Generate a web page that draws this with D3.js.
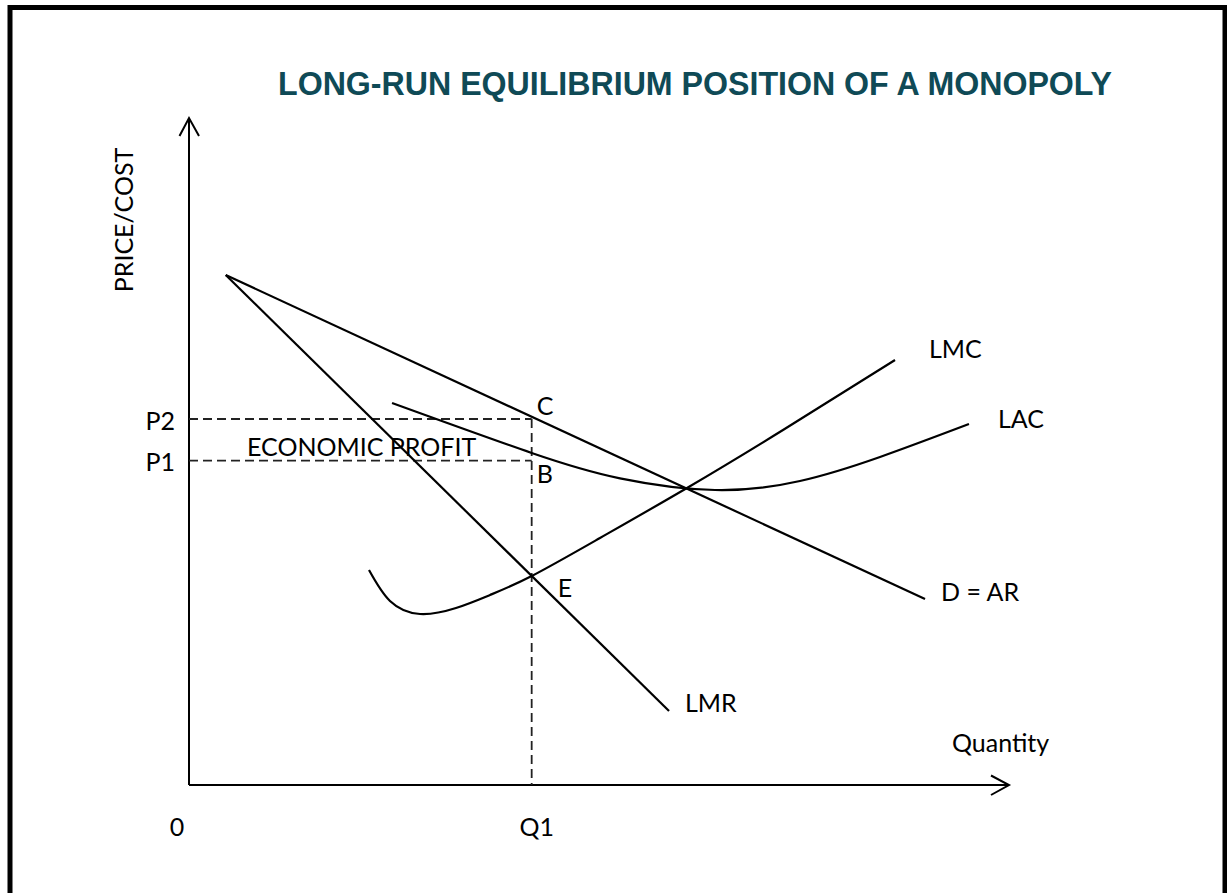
<!DOCTYPE html>
<html>
<head>
<meta charset="utf-8">
<script src="https://cdn.jsdelivr.net/npm/d3@7"></script>
<style>
  html, body { margin: 0; padding: 0; background: #fff; }
  svg { display: block; }
  .lbl { font-family: "Lato", "Noto Sans", sans-serif; font-size: 25px; fill: #000; }
</style>
</head>
<body>
<script>
// Long-run equilibrium of a monopoly: quantity (0–100) against price/cost (0–100).
const title = "LONG-RUN EQUILIBRIUM POSITION OF A MONOPOLY";
const axisLabels = { y: "PRICE/COST", x: "Quantity" };

// Demand / average revenue and long-run marginal revenue (straight lines)
const demandAR = [[4.48, 76.46], [89.76, 27.89]];
const lmr = [[4.48, 76.46], [58.54, 11.09]];

// Long-run average cost (U-shaped, minimum to the right of Q1)
const lacQ = [24.76, 41.79, 52.56, 64.15, 74.51, 84.27, 95.12];
const lacP = [57.27, 49.78, 45.98, 44.23, 45.58, 49.18, 54.12];

// Long-run marginal cost (J-shaped, crossing LAC at its minimum)
const lmcQ = [21.95, 24.51, 28.17, 32.56, 36.71, 41.79, 50.12, 60.73, 72.44, 86.1];
const lmcP = [32.23, 27.59, 25.64, 26.54, 28.49, 31.33, 37.03, 44.53, 53.22, 63.72];

// Equilibrium output and the two price levels
const Q1 = 41.79;
const P2 = 54.87;   // price at Q1
const P1 = 48.62;   // average cost at Q1
const tickLabels = { origin: "0", q: "Q1", p2: "P2", p1: "P1" };
const pointLabels = { c: "C", b: "B", e: "E" };
const curveNames = { lmc: "LMC", lac: "LAC", d: "D = AR", lmr: "LMR" };
const areaLabel = "ECONOMIC PROFIT";

const W = 1227, H = 893;
const svg = d3.select("body").append("svg").attr("width", W).attr("height", H);

// frame
svg.append("rect")
  .attr("x", 10).attr("y", 7.5).attr("width", 1215).attr("height", 905)
  .attr("fill", "none").attr("stroke", "#000").attr("stroke-width", 5);

const x = d3.scaleLinear().domain([0, 100]).range([189, 1009]);
const y = d3.scaleLinear().domain([0, 100]).range([785, 118]);

// title
svg.append("text")
  .attr("x", 278).attr("y", 95)
  .attr("font-family", "'Liberation Sans', Arial, sans-serif")
  .attr("font-weight", "bold").attr("font-size", 33.5)
  .attr("textLength", 834).attr("lengthAdjust", "spacingAndGlyphs")
  .attr("fill", "#0f4a56")
  .text(title);

// axes with open arrowheads
const axisG = svg.append("g").attr("stroke", "#000").attr("stroke-width", 2).attr("fill", "none");
axisG.append("line").attr("x1", x(0)).attr("y1", y(0)).attr("x2", x(0)).attr("y2", y(100));
axisG.append("line").attr("x1", x(0)).attr("y1", y(0)).attr("x2", x(100)).attr("y2", y(0));
axisG.append("path")
  .attr("d", `M${x(0) - 9.5},${y(100) + 18}L${x(0)},${y(100)}L${x(0) + 10},${y(100) + 18}`);
axisG.append("path")
  .attr("d", `M${x(100) - 18},${y(0) - 9.5}L${x(100)},${y(0)}L${x(100) - 18},${y(0) + 10}`);

// dashed guides for P2, P1 and Q1
const dashG = svg.append("g").attr("stroke", "#222").attr("stroke-width", 1.8)
  .attr("stroke-dasharray", "9,5").attr("fill", "none");
dashG.append("line").attr("x1", x(0)).attr("y1", y(P2)).attr("x2", x(Q1)).attr("y2", y(P2));
dashG.append("line").attr("x1", x(0)).attr("y1", y(P1)).attr("x2", x(Q1)).attr("y2", y(P1));
dashG.append("line").attr("x1", x(Q1)).attr("y1", y(P2)).attr("x2", x(Q1)).attr("y2", y(0));

// curves
const straight = d3.line().x(d => x(d[0])).y(d => y(d[1]));
const smooth = d3.line().x(d => x(d[0])).y(d => y(d[1])).curve(d3.curveNatural);
const lac = lacQ.map((q, i) => [q, lacP[i]]);
const lmc = lmcQ.map((q, i) => [q, lmcP[i]]);

const curveG = svg.append("g").attr("stroke", "#000").attr("stroke-width", 2.2).attr("fill", "none");
curveG.append("path").attr("d", straight(demandAR));
curveG.append("path").attr("d", straight(lmr));
curveG.append("path").attr("d", smooth(lac));
curveG.append("path").attr("d", smooth(lmc));

// text labels
function label(txt, px, py, anchor) {
  return svg.append("text").attr("class", "lbl")
    .attr("x", px).attr("y", py).attr("text-anchor", anchor || "start").text(txt);
}
const endOf = a => a[a.length - 1];

label(curveNames.lmc, x(endOf(lmc)[0]) + 34, y(endOf(lmc)[1]) - 2);
label(curveNames.lac, x(endOf(lac)[0]) + 29, y(endOf(lac)[1]) + 4);
label(curveNames.d, x(endOf(demandAR)[0]) + 16, y(endOf(demandAR)[1]) + 2);
label(curveNames.lmr, x(endOf(lmr)[0]) + 16, y(endOf(lmr)[1]) + 1);

label(pointLabels.c, x(Q1) + 5, y(P2) - 4);
label(pointLabels.b, x(Q1) + 5, y(P1) + 22);
label(pointLabels.e, x(Q1) + 26, y(lmcP[5]) + 21);

label(areaLabel, 247, y(P1) - 5);

label(tickLabels.p2, x(0) - 14, y(P2) + 11, "end");
label(tickLabels.p1, x(0) - 14, y(P1) + 10, "end");
label(tickLabels.origin, x(0) - 12, y(0) + 51, "middle");
label(tickLabels.q, x(Q1) + 5, y(0) + 51, "middle");
label(axisLabels.x, 952, y(0) - 33);

svg.append("text").attr("class", "lbl")
  .attr("transform", `translate(133,220) rotate(-90)`)
  .attr("text-anchor", "middle")
  .text(axisLabels.y);
</script>
</body>
</html>
